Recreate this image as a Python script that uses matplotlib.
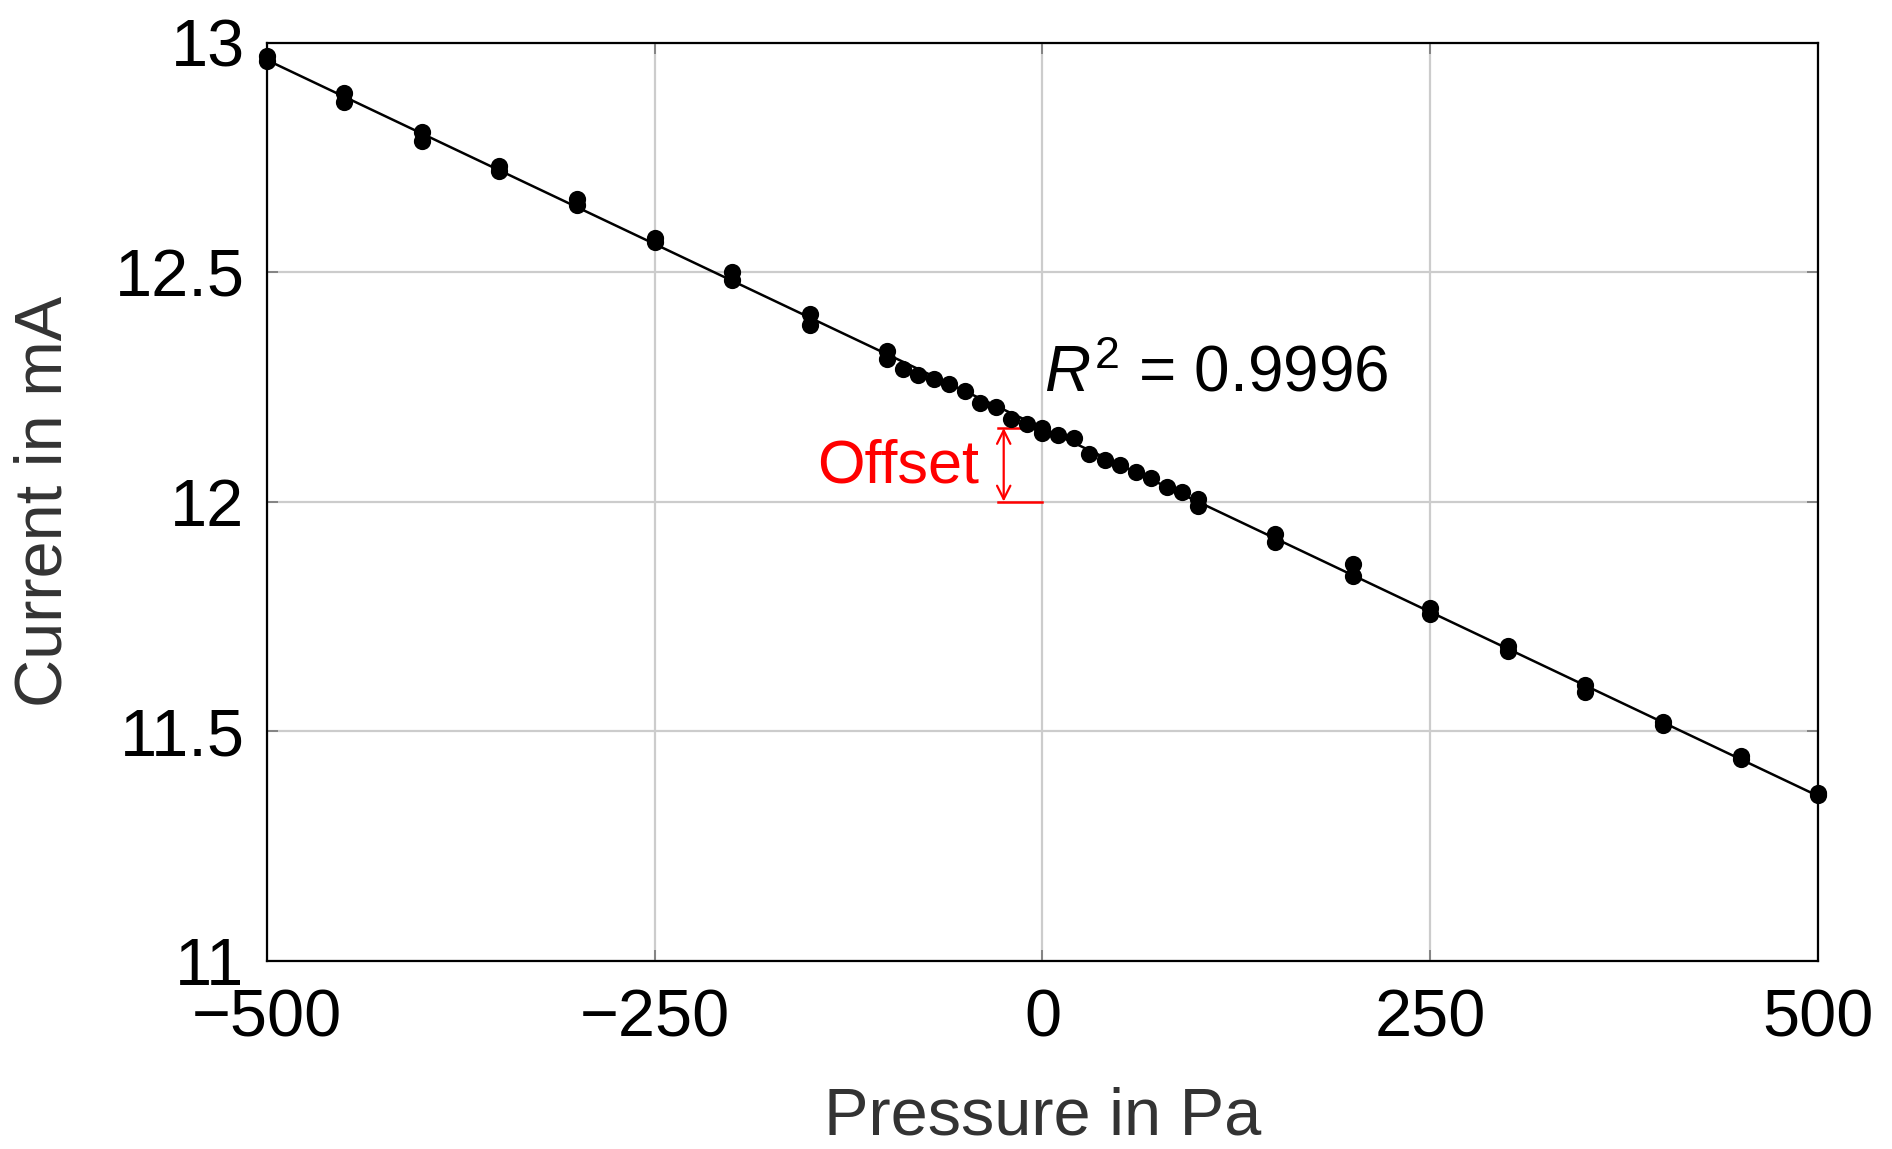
import numpy as np
import matplotlib.pyplot as plt

plt.rcParams['font.family'] = ['Liberation Sans', 'DejaVu Sans']
plt.rcParams['mathtext.fontset'] = 'custom'
plt.rcParams['mathtext.it'] = 'Liberation Sans:italic'
plt.rcParams['mathtext.rm'] = 'Liberation Sans'

# measured points (two readings per pressure where visible)
pressure = [-500, -500, -450, -450, -400, -400, -350, -350, -300, -300,
            -250, -250, -200, -200, -150, -150, -100, -100,
            -90, -80, -70, -60, -50, -40, -30, -20, -10,
            0, 0, 10, 20, 30, 40, 50, 60, 70, 80, 90,
            100, 100, 150, 150, 200, 200, 250, 250, 300, 300,
            350, 350, 400, 400, 450, 450, 500, 500]
current = [12.970, 12.960, 12.890, 12.870, 12.805, 12.785, 12.730, 12.720, 12.660, 12.645,
           12.575, 12.565, 12.500, 12.482, 12.408, 12.385, 12.328, 12.310,
           12.288, 12.275, 12.268, 12.255, 12.240, 12.215, 12.205, 12.180, 12.170,
           12.160, 12.150, 12.145, 12.138, 12.103, 12.090, 12.080, 12.065, 12.052, 12.032, 12.020,
           12.005, 11.990, 11.930, 11.912, 11.865, 11.838, 11.768, 11.755, 11.685, 11.675,
           11.600, 11.585, 11.520, 11.514, 11.445, 11.440, 11.365, 11.360]

x_ticks = [-500, -250, 0, 250, 500]
y_ticks = [11, 11.5, 12, 12.5, 13]
y_tick_labels = ['11', '11.5', '12', '12.5', '13']
r2_text = r'$R^2$ = 0.9996'

p = np.array(pressure)
c = np.array(current)
slope, intercept = np.polyfit(p, c, 1)

fig = plt.figure(figsize=(9.46, 5.745), dpi=200)
ax = fig.add_axes([0.141, 0.164, 0.820, 0.799])

xfit = np.array([-500, 500])
ax.plot(xfit, slope * xfit + intercept, color='black', lw=0.9, zorder=3)
ax.plot(p, c, 'o', color='black', ms=5.2, clip_on=False, zorder=4)

# offset marker
ax.annotate('', xy=(-25, intercept), xytext=(-25, 12.0),
            arrowprops=dict(arrowstyle='<->', color='red', lw=0.8,
                            shrinkA=0, shrinkB=0, mutation_scale=12))
ax.plot([-29, 0], [12.0, 12.0], color='red', lw=0.9, zorder=2)
ax.plot([-29, -12], [intercept, intercept], color='red', lw=0.9, zorder=2)
ax.text(-41, 12.076, 'Offset', color='red', fontsize=22, ha='right', va='center')

ax.text(1, 12.24, r2_text, fontsize=23, ha='left', va='baseline')

ax.set_xlim(-500, 500)
ax.set_ylim(11, 13)
ax.set_xticks(x_ticks)
ax.set_yticks(y_ticks)
ax.set_yticklabels(y_tick_labels)
ax.grid(True, color='#cccccc', lw=0.8)
ax.set_axisbelow(True)
ax.tick_params(direction='in', top=True, right=True, length=4, width=0.6,
               color='#777777', labelsize=24)
ax.tick_params(axis='x', pad=10)
ax.tick_params(axis='y', pad=8)
for s in ax.spines.values():
    s.set_linewidth(0.8)

ax.set_xlabel('Pressure in Pa', fontsize=24, color='#333333', labelpad=13)
ax.set_ylabel('Current in mA', fontsize=24, color='#333333', labelpad=14)

fig.savefig('out.png', dpi=200)
